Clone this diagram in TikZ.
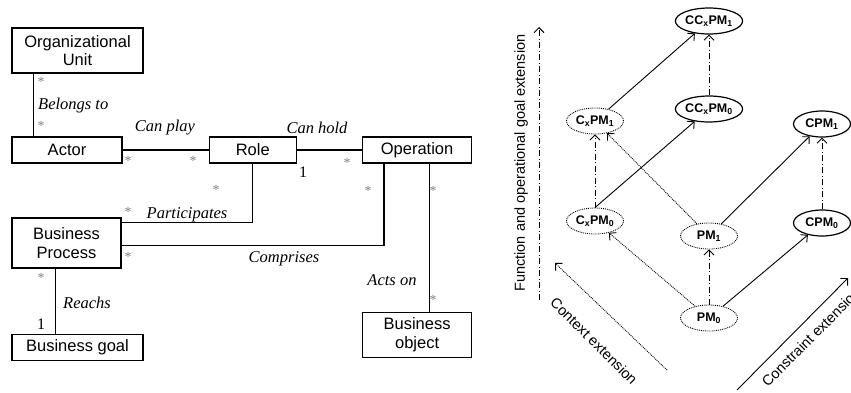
\documentclass[tikz,border=0pt]{standalone}
\usepackage{fontspec}
\setmainfont{Liberation Sans}
\newfontfamily\tnr{Liberation Serif}
\usetikzlibrary{positioning,shapes.geometric,arrows.meta}

\tikzset{
  entity/.style={draw, line width=1.3pt, align=center, inner sep=0pt, font=\fontsize{16.5}{18.5}\selectfont},
  assoc/.style={line width=1.3pt},
  rolename/.style={font=\tnr\itshape\fontsize{16.5}{18}\selectfont, inner sep=0pt},
  many/.style={text=gray, font=\tnr\fontsize{14}{14}\selectfont, inner sep=0pt},
  one/.style={font=\tnr\fontsize{16}{16}\selectfont, inner sep=0pt},
  model/.style={ellipse, minimum width=57pt, minimum height=26pt, inner sep=0pt, font=\bfseries\fontsize{12.5}{14}\selectfont},
  known/.style={model, draw, line width=1.2pt},
  derived/.style={model, draw, densely dotted, line width=0.9pt},
  ext/.style={-{Straight Barb[length=5pt,width=10pt]}, line width=0.9pt},
  dashdot/.style={dash pattern=on 6pt off 2.5pt on 1pt off 2.5pt},
  axis/.style={font=\fontsize{14.5}{16}\selectfont, inner sep=0pt},
}

\begin{document}
\begin{tikzpicture}[x=1pt,y=-1pt]
\useasboundingbox (0,0) rectangle (851,392);

\node[entity, minimum width=131pt, minimum height=45pt] (unit) at (77.5,50.5) {Organizational\\Unit};
\node[entity, minimum width=110pt, minimum height=26pt] (actor) at (67,150) {Actor};
\node[entity, minimum width=87pt, minimum height=26pt, right=86pt of actor] (role) {Role};
\node[entity, minimum width=109pt, minimum height=26pt, right=65pt of role] (op) {Operation};
\node[entity, minimum width=109pt, minimum height=50pt] (bp) at (66.5,243) {Business\\Process};
\node[entity, minimum width=131pt, minimum height=26pt, below=65pt of bp.south west, anchor=north west] (goal) {Business goal};
\node[entity, minimum width=109pt, minimum height=45pt, below=148pt of op] (obj) {Business\\object};

\draw[assoc] ([xshift=22pt]unit.south west) -- ([xshift=22pt]actor.north west);
\draw[assoc] (actor) -- (role);
\draw[assoc] (role) -- (op);
\draw[assoc] (role.south) |- ([yshift=-5pt]bp.north east);
\draw[assoc] ([yshift=-28pt]bp.north east) -| ([xshift=22pt]op.south west);
\draw[assoc] ([xshift=-43pt]op.south east) -- ([xshift=-43pt]obj.north east);
\draw[assoc] ([xshift=44pt]bp.south west) -- ([xshift=44pt]goal.north west);

\foreach \x/\y [count=\i] in {41/82, 41/126, 128/161, 193/161, 347/163, 216/190, 128/212, 128/257, 368/191, 433/191, 433/300, 41/278}
  \node[many] (m\i) at (\x,\y) {*};
\node[one] (o1) at (303,172) {1};
\node[one] (o2) at (41,324) {1};

\node[rolename, anchor=west] (belongs) at (38,106) {Belongs to};
\node[rolename] (canplay) at (165,128) {Can play};
\node[rolename] (canhold) at (317,128) {Can hold};
\node[rolename] (partic) at (187,215) {Participates};
\node[rolename] (compr) at (284,259) {Comprises};
\node[rolename] (actson) at (392,280) {Acts on};
\node[rolename] (reachs) at (87,303) {Reachs};

\node[known] (ccpm1) at (709,21) {CC\textsubscript{x}PM\textsubscript{1}};
\node[known] (ccpm0) at (709,109) {CC\textsubscript{x}PM\textsubscript{0}};
\node[derived] (cxpm1) at (595,121) {C\textsubscript{x}PM\textsubscript{1}};
\node[known] (cpm1) at (822,124) {CPM\textsubscript{1}};
\node[derived] (cxpm0) at (595,221) {C\textsubscript{x}PM\textsubscript{0}};
\node[derived] (pm1) at (709,236) {PM\textsubscript{1}};
\node[known] (cpm0) at (822,223) {CPM\textsubscript{0}};
\node[derived] (pm0) at (709,318) {PM\textsubscript{0}};

\draw[ext] (cxpm1) -- (ccpm1);
\draw[ext] (cxpm0.north) -- (ccpm0);
\draw[ext] (pm1) -- (cpm1);
\draw[ext] (pm0) -- (cpm0);
\draw[ext, dashdot] (ccpm0) -- (ccpm1);
\draw[ext, dashdot] (cxpm0) -- (cxpm1);
\draw[ext, dashdot] (pm0) -- (pm1);
\draw[ext, dashdot] (cpm0) -- (cpm1);
\draw[ext, densely dotted] (pm1) -- (cxpm1);
\draw[ext, densely dotted] (pm0) -- (cxpm0);

\coordinate (fstart) at (539,300);
\coordinate (fend) at (539,27);
\draw[ext, dashdot] (fstart) -- (fend);
\node[axis, rotate=90] (flabel) at (521,163) {Function and operational goal extension};
\coordinate (cstart) at (667,370);
\coordinate (cend) at (555,263);
\draw[ext, densely dotted] (cstart) -- (cend);
\node[axis, rotate=-45] (clabel) at (594,341) {Context extension};
\coordinate (kstart) at (737,390);
\coordinate (kend) at (848,278);
\draw[ext] (kstart) -- (kend);
\node[axis, rotate=45] (klabel) at (811,337) {Constraint extension};
\end{tikzpicture}
\end{document}
